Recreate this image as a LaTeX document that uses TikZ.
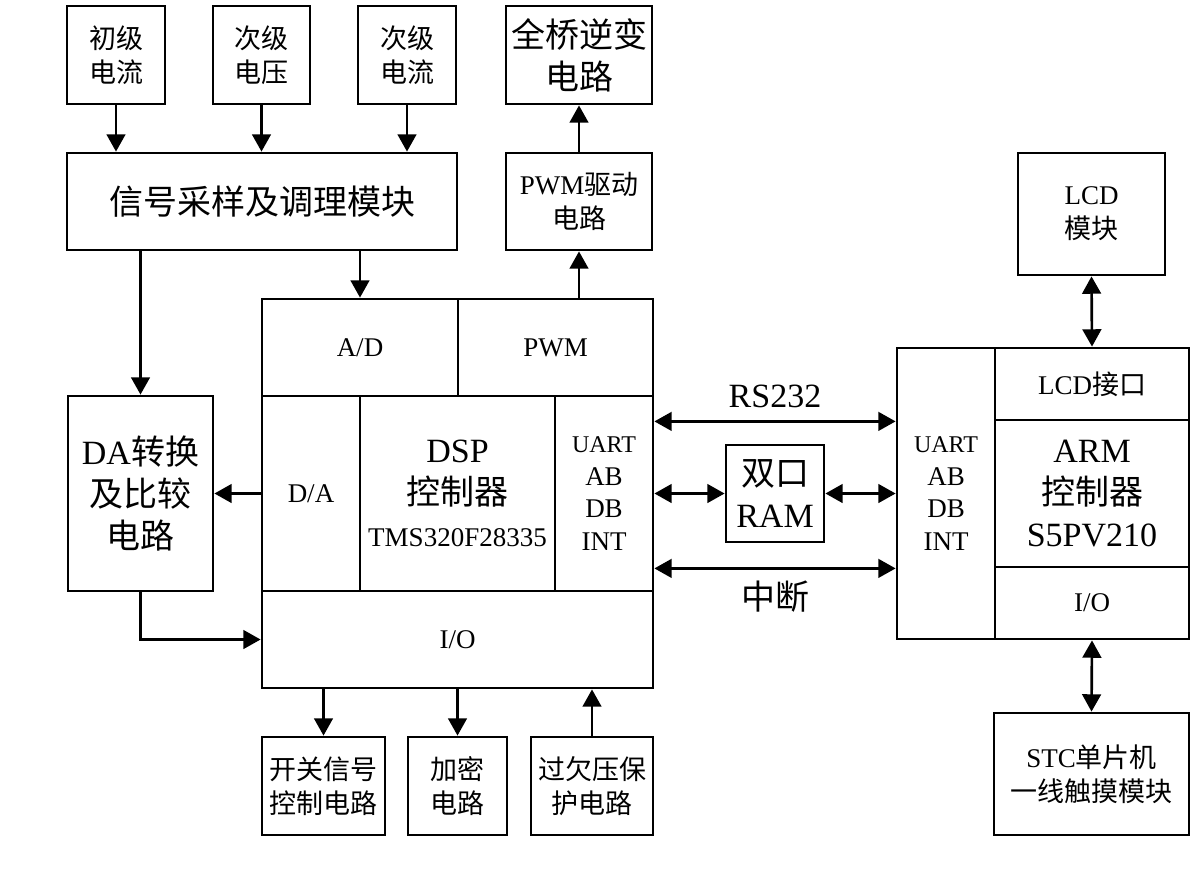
\documentclass[tikz,border=0pt]{standalone}
\usepackage{fontspec}
\setmainfont{Liberation Serif}
\newfontfamily\cjk{Noto Sans CJK SC}
\usetikzlibrary{arrows.meta}
\newcommand\fs{\fontsize{20.25}{25.5}\selectfont}
\newcommand\fl{\fontsize{25.5}{31.5}\selectfont}
\tikzset{
  box/.style={draw, line width=2.1pt, inner sep=0pt, align=center, font=\fs},
  big/.style={font=\fl},
  colfont/.style={font=\fontsize{20.25}{24.4}\selectfont},
  arr/.style={line width=2pt, -{Triangle[length=13pt,width=14pt]}},
  darr/.style={line width=2pt, {Triangle[length=13pt,width=14pt]}-{Triangle[length=13pt,width=14pt]}},
  lbl/.style={font=\fl, inner sep=0pt}
}
\newcommand\bx[7]{%
  \pgfmathsetmacro\bw{(#4-#2)*0.75}\pgfmathsetmacro\bh{(#5-#3)*0.75}%
  \pgfmathsetmacro\bcx{(#2+#4)/2}\pgfmathsetmacro\bcy{(#3+#5)/2}%
  \node[box,#6,minimum width=\bw pt,minimum height=\bh pt] (#1) at (\bcx,\bcy) {#7};}
\begin{document}
\begin{tikzpicture}[x=0.75pt,y=-0.75pt]
\useasboundingbox (0,0) rectangle (1199,879);
% top row
\bx{t1}{67}{6}{165}{104}{}{{\cjk 初级}\\{\cjk 电流}}
\bx{t2}{213}{6}{310}{104}{}{{\cjk 次级}\\{\cjk 电压}}
\bx{t3}{358}{6}{456}{104}{}{{\cjk 次级}\\{\cjk 电流}}
\bx{inv}{506}{6}{652}{104}{big}{{\cjk 全桥逆变}\\{\cjk 电路}}
% second row
\bx{sig}{67}{153}{457}{250}{big}{{\cjk 信号采样及调理模块}}
\bx{drv}{506}{153}{652}{250}{}{PWM{\cjk 驱动}\\{\cjk 电路}}
% DSP
\bx{ad}{262}{299}{458}{396}{}{A/D}
\bx{pwm}{458}{299}{653}{396}{}{PWM}
\bx{da}{262}{396}{360}{591}{}{D/A}
\bx{dsp}{360}{396}{555}{591}{big}{DSP\\{\cjk 控制器}\\{\fs TMS320F28335}}
\bx{u1}{555}{396}{653}{591}{colfont}{{\fontsize{18}{24.4}\selectfont UART}\\AB\\DB\\INT}
\bx{io1}{262}{591}{653}{688}{}{I/O}
% DA box
\bx{dac}{68}{396}{213}{591}{big}{DA{\cjk 转换}\\{\cjk 及比较}\\{\cjk 电路}}
% bottom boxes
\bx{b1}{262}{737}{385}{835}{}{{\cjk 开关信号}\\{\cjk 控制电路}}
\bx{b2}{408}{737}{507}{835}{}{{\cjk 加密}\\{\cjk 电路}}
\bx{b3}{531}{737}{653}{835}{}{{\cjk 过欠压保}\\{\cjk 护电路}}
% RAM
\bx{ram}{726}{445}{824}{542}{big}{{\cjk 双口}\\RAM}
% ARM
\bx{u2}{897}{348}{995}{639}{colfont}{{\fontsize{18}{24.4}\selectfont UART}\\AB\\DB\\INT}
\bx{lcdif}{995}{348}{1189}{420}{}{LCD{\cjk 接口}}
\bx{arm}{995}{420}{1189}{567}{big}{ARM\\{\cjk 控制器}\\S5PV210}
\bx{io2}{995}{567}{1189}{639}{}{I/O}
\bx{lcd}{1018}{153}{1165}{275}{}{LCD\\{\cjk 模块}}
\bx{stc}{994}{713}{1189}{835}{}{STC{\cjk 单片机}\\{\cjk 一线触摸模块}}
% labels
\node[lbl] (rs) at (775,396) {RS232};
\node[lbl] (zd) at (775,597) {\cjk 中断};
% connectors
\draw[arr] (t1.south) -- (t1.south |- sig.north);
\draw[arr] (t2.south) -- (t2.south |- sig.north);
\draw[arr] (t3.south) -- (t3.south |- sig.north);
\draw[arr] (dac.north |- sig.south) -- (dac.north);
\draw[arr] (ad.north |- sig.south) -- (ad.north);
\draw[arr] (drv.south |- pwm.north) -- (drv.south);
\draw[arr] (drv.north) -- (inv.south);
\draw[arr] (da.west) -- (dac.east);
\draw[arr] (dac.south) |- (io1.west);
\draw[arr] (b1.north |- io1.south) -- (b1.north);
\draw[arr] (b2.north |- io1.south) -- (b2.north);
\draw[arr] (b3.north) -- (b3.north |- io1.south);
\draw[darr] (u1.east |- lcdif.south) -- (u2.west |- lcdif.south);
\draw[darr] (u1.east) -- (ram.west);
\draw[darr] (ram.east) -- (u2.west |- ram.east);
\draw[darr] (u1.east |- arm.south) -- (u2.west |- arm.south);
\draw[darr] (lcd.south) -- (lcdif.north);
\draw[darr] (io2.south) -- (stc.north);
\end{tikzpicture}
\end{document}
